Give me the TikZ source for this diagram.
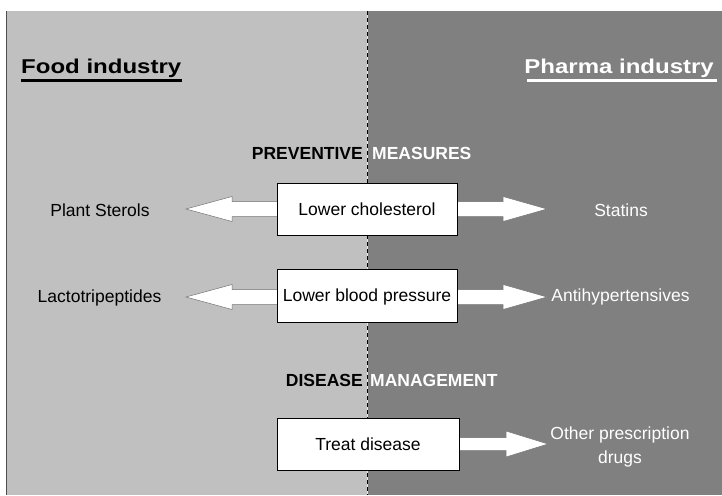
\documentclass[tikz,border=0pt]{standalone}
\usepackage{fontspec}
\setmainfont{Liberation Sans}
\usetikzlibrary{calc}
\definecolor{lightpanel}{HTML}{C0C0C0}
\definecolor{darkpanel}{HTML}{808080}
\definecolor{edgegray}{HTML}{4D4D4D}
\newcommand{\bodyfont}{\fontsize{17.5}{23.3}\selectfont}
\newcommand{\headfont}{\fontsize{17.5}{21}\selectfont\bfseries}
\newcommand{\titlefont}{\fontsize{20}{24}\selectfont\bfseries}
\begin{document}
\begin{tikzpicture}[x=1pt,y=-1pt,
  bodytext/.style={inner sep=0pt,anchor=base,font=\bodyfont},
  lefttext/.style={bodytext,text=black},
  righttext/.style={bodytext,text=white},
  boxnode/.style={draw=black,line width=0.8pt,fill=white,minimum width=180pt,minimum height=52pt,inner sep=0pt,font=\bodyfont,text height=12.5pt,text depth=0pt},
  blockarr/.style={fill=white,draw=black!55,line width=0.5pt,line join=miter},
  headtext/.style={inner sep=0pt,font=\headfont},
  titletext/.style={inner sep=0pt,font=\titlefont}
]
\useasboundingbox (0,0) rectangle (722,495);
% panels
\fill[white] (0,0) rectangle (722,495);
\fill[lightpanel] (6,11) rectangle (367,495);
\fill[darkpanel] (367,11) rectangle (722,495);
\draw[edgegray,line width=1.5pt] (6.5,11) -- (6.5,495);
\draw[white!85!gray,line width=1pt] (367,11) -- (367,495);
\draw[black,line width=1pt,dash pattern=on 4pt off 3pt] (367,11) -- (367,495);

% titles
\node[titletext,anchor=base west,text=black] (food) at (21,73.3) {\scalebox{1.2}[1]{Food industry}};
\node[titletext,anchor=base east,text=white] (pharma) at (714,73.3) {\scalebox{1.2}[1]{Pharma industry}};
\coordinate (fu1) at (21,80.5);
\coordinate (fu2) at (182,80.5);
\coordinate (pu1) at (527,80.5);
\coordinate (pu2) at (717,80.5);
\draw[black,line width=2.5pt] (fu1) -- (fu2);
\draw[white,line width=2.5pt] (pu1) -- (pu2);

% section headings
\node[headtext,anchor=base east,text=black] (prev) at (363,159.3) {PREVENTIVE};
\node[headtext,anchor=base west,text=white] (meas) at (372,159.3) {MEASURES};
\node[headtext,anchor=base east,text=black] (dis) at (363,386.7) {DISEASE};
\node[headtext,anchor=base west,text=white] (mgmt) at (370,386.7) {MANAGEMENT};

% arrow tips
\coordinate (a1L) at (186,209);
\coordinate (a1R) at (547,209);
\coordinate (a2L) at (186,297);
\coordinate (a2R) at (547,297);
\coordinate (a3R) at (548,444);

% double arrows
\draw[blockarr] (a1L) -- ($(a1L)+(46,-12.5)$) -- ($(a1L)+(46,-7.5)$) -- ($(a1R)+(-44,-7.5)$) -- ($(a1R)+(-44,-12.5)$) -- (a1R)
  -- ($(a1R)+(-44,12.5)$) -- ($(a1R)+(-44,7.5)$) -- ($(a1L)+(46,7.5)$) -- ($(a1L)+(46,12.5)$) -- cycle;
\draw[blockarr] (a2L) -- ($(a2L)+(46,-12.5)$) -- ($(a2L)+(46,-7.5)$) -- ($(a2R)+(-44,-7.5)$) -- ($(a2R)+(-44,-12.5)$) -- (a2R)
  -- ($(a2R)+(-44,12.5)$) -- ($(a2R)+(-44,7.5)$) -- ($(a2L)+(46,7.5)$) -- ($(a2L)+(46,12.5)$) -- cycle;
\draw[blockarr] ($(a3R)+(-108,-6.5)$) -- ($(a3R)+(-42,-6.5)$) -- ($(a3R)+(-42,-13)$) -- (a3R)
  -- ($(a3R)+(-42,13)$) -- ($(a3R)+(-42,6.5)$) -- ($(a3R)+(-108,6.5)$) -- cycle;

% boxes
\node[boxnode] (b1) at (367,209) {Lower cholesterol};
\node[boxnode,minimum height=53pt] (b2) at (367,295.5) {Lower blood pressure};
\node[boxnode,minimum width=182pt] (b3) at (368,444) {Treat disease};

% side labels
\node[lefttext] (plant) at (100,216) {Plant Sterols};
\node[lefttext] (lacto) at (99.5,302.7) {Lactotripeptides};
\node[righttext] (stat) at (621,216) {Statins};
\node[righttext] (anti) at (620.5,301.7) {Antihypertensives};
\node[righttext,anchor=north,align=center] (other) at (620,427) {Other prescription\\drugs};
\end{tikzpicture}
\end{document}
